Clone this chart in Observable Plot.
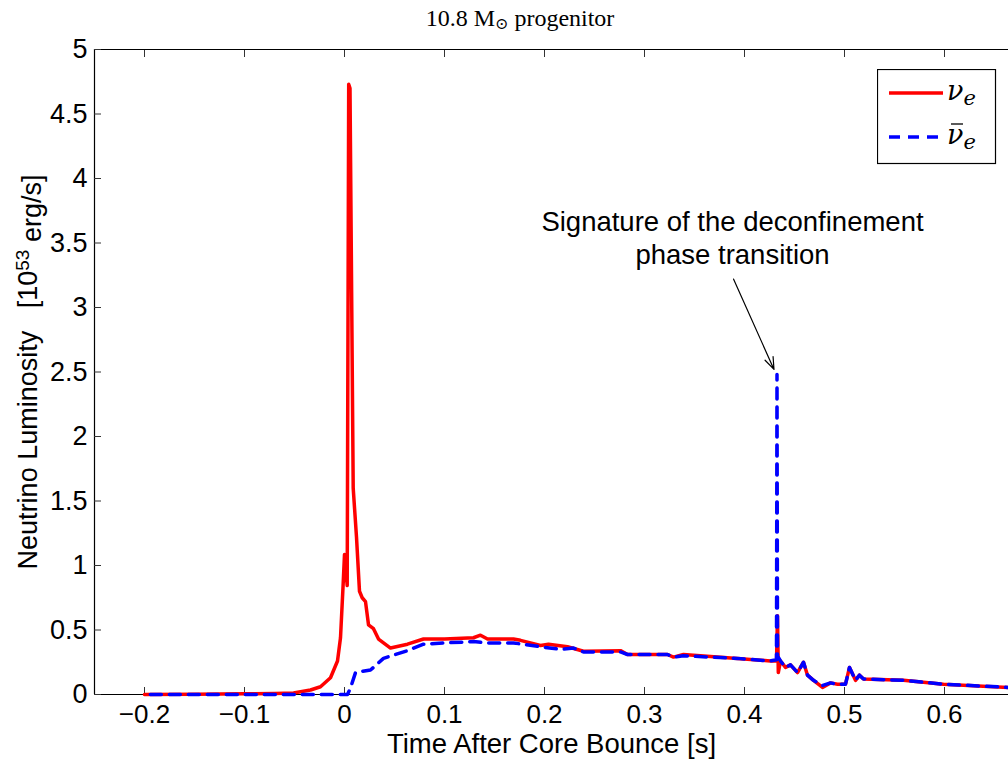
<!DOCTYPE html>
<html><head><meta charset="utf-8">
<script src="https://cdn.jsdelivr.net/npm/d3@7"></script>
<script src="https://cdn.jsdelivr.net/npm/@observablehq/plot@0.6"></script>
<style>
html,body{margin:0;padding:0;background:#fff;overflow:hidden;width:1008px;height:760px}
#title{position:relative;height:36px;font-family:"Liberation Serif","DejaVu Serif",serif;font-size:24px;color:#000}
#title span{position:absolute;left:520px;top:5px;transform:translateX(-50%);white-space:nowrap}
#title sub{font-size:16px;vertical-align:-3px}
#legend{position:absolute;left:877px;top:69px}
</style></head><body>
<div id="title"><span>10.8 M<sub>⊙</sub> progenitor</span></div>
<div id="chart"></div>
<div id="legend"></div>
<script>
// ---- data ----
const nueTime = [-0.2, -0.15, -0.1, -0.07, -0.051, -0.034, -0.024, -0.014, -0.007, -0.004, -0.0015, 0.0, 0.0027, 0.0042, 0.0055, 0.0087, 0.012, 0.015, 0.0177, 0.021, 0.024, 0.029, 0.034, 0.046, 0.063, 0.079, 0.1, 0.129, 0.136, 0.143, 0.169, 0.176, 0.196, 0.204, 0.223, 0.239, 0.276, 0.283, 0.323, 0.329, 0.339, 0.393, 0.426, 0.432, 0.433, 0.4338, 0.436, 0.441, 0.446, 0.453, 0.459, 0.463, 0.469, 0.478, 0.486, 0.493, 0.501, 0.505, 0.511, 0.515, 0.519, 0.559, 0.599, 0.664];
const nueLum  = [0.0, 0.002, 0.005, 0.008, 0.012, 0.035, 0.06, 0.13, 0.26, 0.44, 0.83, 1.085, 0.845, 4.73, 4.70, 1.6, 1.22, 0.8, 0.75, 0.72, 0.54, 0.51, 0.43, 0.36, 0.39, 0.43, 0.43, 0.44, 0.46, 0.43, 0.43, 0.42, 0.38, 0.39, 0.37, 0.335, 0.34, 0.31, 0.31, 0.29, 0.31, 0.28, 0.26, 0.26, 0.61, 0.17, 0.26, 0.21, 0.23, 0.17, 0.25, 0.15, 0.11, 0.055, 0.09, 0.08, 0.08, 0.21, 0.11, 0.15, 0.12, 0.11, 0.08, 0.055];
const anueTime = [-0.2, -0.1, 0.003, 0.006, 0.011, 0.026, 0.039, 0.063, 0.079, 0.1, 0.129, 0.143, 0.169, 0.196, 0.216, 0.229, 0.239, 0.276, 0.283, 0.323, 0.329, 0.339, 0.393, 0.426, 0.432, 0.4325, 0.433, 0.436, 0.441, 0.446, 0.453, 0.459, 0.463, 0.469, 0.478, 0.486, 0.493, 0.501, 0.505, 0.511, 0.515, 0.519, 0.559, 0.599, 0.664];
const anueLum  = [0.0, 0.0, 0.0, 0.05, 0.17, 0.19, 0.28, 0.34, 0.39, 0.40, 0.41, 0.40, 0.40, 0.37, 0.35, 0.36, 0.33, 0.33, 0.31, 0.31, 0.29, 0.30, 0.28, 0.26, 0.27, 2.48, 0.30, 0.26, 0.21, 0.23, 0.17, 0.25, 0.15, 0.11, 0.07, 0.09, 0.08, 0.08, 0.21, 0.11, 0.15, 0.12, 0.11, 0.08, 0.055];
const xTicks = [-0.2, -0.1, 0, 0.1, 0.2, 0.3, 0.4, 0.5, 0.6];
const yTicks = [0, 0.5, 1, 1.5, 2, 2.5, 3, 3.5, 4, 4.5, 5];
const xDomain = [-0.25, 0.664];
const yDomain = [0, 5];
const xLabel = "Time After Core Bounce [s]";
const yLabelParts = ["Neutrino Luminosity   [10", "53", " erg/s]"];
const annotText = ["Signature of the deconfinement\nphase transition"];
const annotPos = [{x: 0.388, y: 3.55}];
const arrowPos = [{x1: 0.389, y1: 3.22, x2: 0.4295, y2: 2.52}];

const nue = nueTime.map((t, i) => ({t, L: nueLum[i]}));
const anue = anueTime.map((t, i) => ({t, L: anueLum[i]}));
const font = "'Liberation Sans', Arial, Helvetica, sans-serif";
const fmt = d => d < 0 ? "\u2212" + String(-d) : String(d);
const dash = [11, 8];

const plot = Plot.plot({
  width: 1008, height: 724,
  marginTop: 13, marginBottom: 66, marginLeft: 94, marginRight: 0,
  x: {domain: xDomain},
  y: {domain: yDomain},
  style: {fontFamily: font, fontSize: "27px", color: "#000", background: "#fff", overflow: "visible"},
  marks: [
    Plot.ruleY([yDomain[0]], {stroke: "#000", strokeWidth: 1.2}),
    Plot.ruleY([yDomain[1]], {stroke: "#000", strokeWidth: 1.2}),
    Plot.ruleX([xDomain[0]], {stroke: "#000", strokeWidth: 1.2}),
    Plot.axisX({ticks: xTicks, anchor: "bottom", tickSize: 0, tickPadding: 10, label: null, fontSize: 26, tickFormat: fmt}),
    Plot.axisX({ticks: xTicks, anchor: "bottom", tickSize: -7, tickFormat: () => "", label: null, stroke: "#333"}),
    Plot.axisX({ticks: xTicks, anchor: "top", tickSize: -7, tickFormat: () => "", label: null, stroke: "#333"}),
    Plot.axisY({ticks: yTicks, anchor: "left", tickSize: 0, tickPadding: 7, label: null, fontSize: 27, tickFormat: fmt}),
    Plot.axisY({ticks: yTicks, anchor: "left", tickSize: -7, tickFormat: () => "", label: null, stroke: "#333"}),
    Plot.line(nue, {x: "t", y: "L", stroke: "#ff0000", strokeWidth: 3.5, strokeLinejoin: "round"}),
    Plot.line(anue, {x: "t", y: "L", stroke: "#0000ff", strokeWidth: 3.5, strokeDasharray: dash.join(",")}),
    Plot.text(annotText, {x: () => annotPos[0].x, y: () => annotPos[0].y, text: d => d, lineHeight: 1.22, lineAnchor: "middle", fontSize: 27.5, fill: "#000"}),
    Plot.arrow(arrowPos, {x1: "x1", y1: "y1", x2: "x2", y2: "y2", stroke: "#000", strokeWidth: 1.2, headLength: 16, headAngle: 40}),
    Plot.text([xLabel], {frameAnchor: "bottom", dy: 58, fontSize: 27.5, fill: "#000"}),
    Plot.text([yLabelParts.join("")], {frameAnchor: "left", textAnchor: "middle", dx: -66, rotate: -90, fontSize: 27, fill: "#000"})
  ]
});

// superscript for the y label
d3.select(plot).selectAll("text").filter(function() { return this.textContent === yLabelParts.join(""); })
  .each(function() {
    const t = d3.select(this);
    t.text(null).style("white-space", "pre");
    t.append("tspan").text(yLabelParts[0]);
    t.append("tspan").attr("dy", "-0.45em").attr("font-size", "19px").text(yLabelParts[1]);
    t.append("tspan").attr("dy", "0.45em").text(yLabelParts[2]);
  });

// align the dash pattern so the dashed spike keeps visible gaps (turn at a dash centre)
try {
  const sx = plot.scale("x"), sy = plot.scale("y");
  const peak = anueLum.indexOf(d3.max(anueLum));
  let len = 0;
  for (let i = 1; i <= peak; i++) {
    len += Math.hypot(sx.apply(anueTime[i]) - sx.apply(anueTime[i - 1]), sy.apply(anueLum[i]) - sy.apply(anueLum[i - 1]));
  }
  const period = dash[0] + dash[1];
  const off = (((dash[0] / 2 - len) % period) + period) % period;
  if (isFinite(off)) {
    d3.select(plot).selectAll("path").filter(function() {
      return this.getAttribute("stroke-dasharray") || (this.parentNode && this.parentNode.getAttribute && this.parentNode.getAttribute("stroke-dasharray"));
    }).attr("stroke-dashoffset", off);
  }
} catch (e) {}
document.getElementById("chart").appendChild(plot);

// legend
const lg = d3.select("#legend").append("svg").attr("width", 122).attr("height", 98);
lg.append("rect").attr("x", 0.5).attr("y", 0.5).attr("width", 118).attr("height", 94).attr("fill", "#fff").attr("stroke", "#000").attr("stroke-width", 1.2);
lg.append("line").attr("x1", 12).attr("x2", 66).attr("y1", 24).attr("y2", 24).attr("stroke", "#ff0000").attr("stroke-width", 3.5);
lg.append("line").attr("x1", 12).attr("x2", 66).attr("y1", 68).attr("y2", 68).attr("stroke", "#0000ff").attr("stroke-width", 3.5).attr("stroke-dasharray", dash.join(","));
const legFont = "'DejaVu Serif', 'Liberation Serif', serif";
const l1 = lg.append("text").attr("x", 70).attr("y", 31).attr("font-family", legFont).attr("font-style", "italic").attr("font-size", 27);
l1.append("tspan").text("ν");
l1.append("tspan").attr("dy", 5).attr("font-size", 21).text("e");
const l2 = lg.append("text").attr("x", 70).attr("y", 75).attr("font-family", legFont).attr("font-style", "italic").attr("font-size", 27);
l2.append("tspan").text("ν");
l2.append("tspan").attr("dy", 5).attr("font-size", 21).text("e");
lg.append("line").attr("x1", 74).attr("x2", 86).attr("y1", 55).attr("y2", 55).attr("stroke", "#000").attr("stroke-width", 1.3);
</script>
</body></html>
